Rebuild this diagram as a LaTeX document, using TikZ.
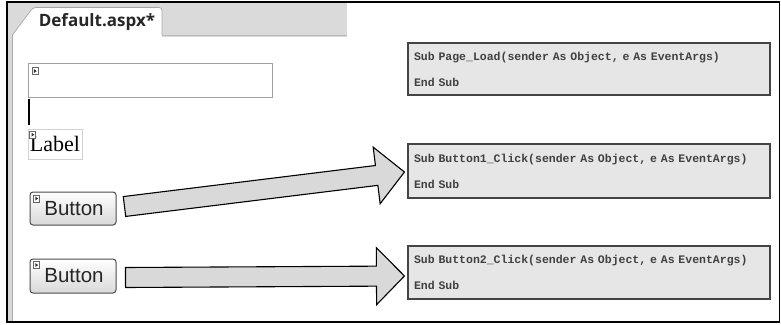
\documentclass[tikz,border=0pt]{standalone}
\usepackage{fontspec}
\setmainfont{Liberation Serif}
\setmonofont{Liberation Mono}
\newfontfamily\tabfont{Open Sans}
\newfontfamily\btnfont{Liberation Sans}
\usetikzlibrary{calc}
\definecolor{bandgray}{HTML}{DADADA}
\definecolor{codefill}{HTML}{E6E6E6}
\definecolor{codeedge}{HTML}{444444}
\definecolor{arrowfill}{HTML}{D9D9D9}
\hbadness=10000 \hfuzz=50pt
\tikzset{
  ctlbox/.style={draw=gray!75, line width=0.8pt, inner sep=0pt},
  labelbox/.style={draw=gray!35, line width=0.6pt, inner sep=0pt, minimum width=54pt, minimum height=30pt,
    font=\fontsize{22}{22}\selectfont},
  btnbox/.style={draw=gray!60!black, line width=1pt, rounded corners=3pt, top color=white, bottom color=gray!30,
    minimum width=86pt, inner sep=0pt, font=\btnfont\fontsize{20.5}{20.5}\selectfont, text=black!85},
  codebox/.style={draw=codeedge, line width=1.1pt, fill=codefill, minimum width=362pt, inner xsep=6pt,
    text width=350pt, align=left, font=\ttfamily\bfseries\fontsize{11.5}{26}\selectfont, text=black!75},
  fatarrow/.style={draw=black, line width=1.1pt, fill=arrowfill, line join=miter},
  smicon/.pic={
    \draw[gray!80!black, fill=white, line width=0.6pt] (0,0) rectangle (6,7);
    \fill[black!80] (1.8,1.5) -- (4.6,3.5) -- (1.8,5.5) -- cycle;
  }
}
\newcommand\fatarr[2]{%
  \coordinate (hb) at ($(#2)!28pt!(#1)$);
  \draw[fatarrow] ($(#1)!10pt!90:(#2)$) -- ($(hb)!10pt!90:(#2)$) -- ($(hb)!28.5pt!90:(#2)$) -- (#2)
    -- ($(hb)!28.5pt!-90:(#2)$) -- ($(hb)!10pt!-90:(#2)$) -- ($(#1)!10pt!-90:(#2)$) -- cycle;
}
\begin{document}
\begin{tikzpicture}[x=1pt,y=-1pt]
\useasboundingbox (0,0) rectangle (781,324);
\fill[white] (0,0) rectangle (781,324);
% tab band
\fill[bandgray] (7.5,3) rectangle (347,35);
\draw[gray!30, line width=1.5pt] (13,36.5) -- (347,36.5);
\draw[gray!55, line width=0.6pt] (162,35) -- (347,35);
% tab
\filldraw[fill=white, draw=gray!70, line width=0.7pt, rounded corners=3pt]
  (12,35.5) -- (33,7.5) -- (162,7.5) -- (162,35.5);
\fill[white] (12.8,34.5) rectangle (161.5,36.5);
\node[font=\tabfont\bfseries\fontsize{17}{17}\selectfont, text=black!85, inner sep=0pt] (tab) at (97,22) {Default.aspx*};
% left bar
\fill[gray!30] (7.5,35) rectangle (12,321.5);
\draw[gray!65, line width=0.8pt] (12.5,35) -- (12.5,321.5);
% outer frame
\draw[black, line width=1.6pt] (6.8,2) rectangle (779.5,322.2);
% controls
\node[ctlbox, minimum width=244pt, minimum height=34pt] (tb) at (150,80) {};
\pic at ($(tb.north west)+(4.5,5)$) {smicon};
\coordinate (cur1) at (29,98.5);
\coordinate (cur2) at (29,125);
\draw[black, line width=2.2pt] (cur1) -- (cur2);
\node[labelbox] (lbl) at (55,144) {\raisebox{-1pt}{Label}};
\pic at ($(lbl.north west)+(2,2.5)$) {smicon};
\node[btnbox, minimum height=33pt] (btn1) at (73,208.5) {\hspace{2pt}Button};
\pic at ($(btn1.north west)+(4,3.5)$) {smicon};
\node[btnbox, minimum height=34pt] (btn2) at (73,276) {\hspace{2pt}Button};
\pic at ($(btn2.north west)+(4,3)$) {smicon};
% code boxes
\node[codebox, minimum height=52pt] (code1) at (589,69) {\mbox{Sub Page\_Load(sender As Object, e As EventArgs)}\\\mbox{End Sub}};
\node[codebox, minimum height=54pt] (code2) at (589,171) {\mbox{Sub Button1\_Click(sender As Object, e As EventArgs)}\\\mbox{End Sub}};
\node[codebox, minimum height=53pt] (code3) at (589,272.5) {\mbox{Sub Button2\_Click(sender As Object, e As EventArgs)}\\\mbox{End Sub}};
% arrows
\coordinate (a1t) at ($(btn1.east)+(8,-2)$);
\coordinate (a1h) at ($(code2.west)+(-3,1)$);
\fatarr{a1t}{a1h}
\coordinate (a2t) at ($(btn2.east)+(9,1.5)$);
\coordinate (a2h) at ($(code3.west)+(-3,3.5)$);
\fatarr{a2t}{a2h}
\end{tikzpicture}
\end{document}
